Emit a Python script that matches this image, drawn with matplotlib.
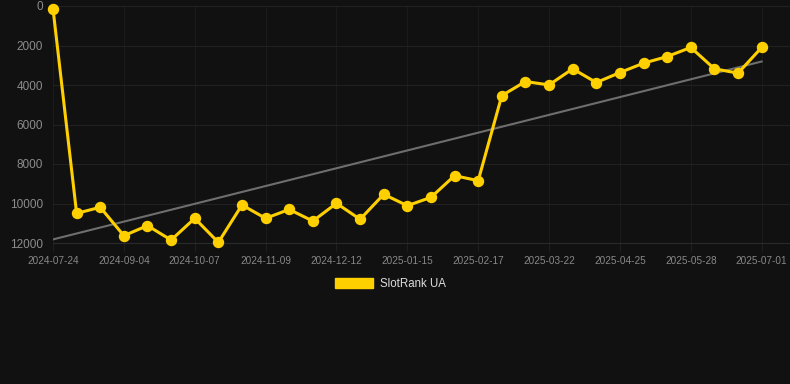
import numpy as np
import matplotlib
matplotlib.use('Agg')
import matplotlib.pyplot as plt
from matplotlib.patches import Patch

plt.rcParams['font.family'] = ['Liberation Sans', 'DejaVu Sans']

dates = ['2024-07-24', '2024-08-07', '2024-08-21', '2024-09-04', '2024-09-15',
         '2024-09-26', '2024-10-07', '2024-10-18', '2024-10-29', '2024-11-09',
         '2024-11-20', '2024-12-01', '2024-12-12', '2024-12-23', '2025-01-04',
         '2025-01-15', '2025-01-26', '2025-02-06', '2025-02-17', '2025-02-28',
         '2025-03-11', '2025-03-22', '2025-04-02', '2025-04-13', '2025-04-25',
         '2025-05-06', '2025-05-17', '2025-05-28', '2025-06-08', '2025-06-19',
         '2025-07-01']
ranks = [140, 10500, 10190, 11630, 11120, 11850, 10750, 11970, 10075, 10750,
         10300, 10890, 9990, 10800, 9535, 10110, 9690, 8590, 8845, 4535,
         3825, 3995, 3180, 3875, 3370, 2895, 2560, 2100, 3180, 3400, 2100]
yticks = [0, 2000, 4000, 6000, 8000, 10000, 12000]

bg = '#111111'
gold = '#FFD000'

fig = plt.figure(figsize=(7.9, 3.84), dpi=100, facecolor=bg)
ax = fig.add_axes([53 / 790, 1 - 243 / 384, 737 / 790, 237 / 384])
ax.set_facecolor(bg)

x = np.arange(len(ranks))
# trend line (least squares)
k, b = np.polyfit(x, ranks, 1)
ax.plot(x, k * x + b, color='#6e6e6e', lw=1.5, zorder=2)

ax.plot(x, ranks, color=gold, lw=2.2, marker='o', ms=7.2, zorder=3, clip_on=False)

ax.set_ylim(12000, 0)
ax.set_yticks(yticks)
ax.set_xlim(0, 31.2)
ax.set_xticks(x[::3])
ax.set_xticklabels(dates[::3])

ax.yaxis.grid(True, color='#212121', lw=0.8)
ax.xaxis.grid(True, color='#1b1b1b', lw=0.8)
ax.set_axisbelow(True)
for s in ax.spines.values():
    s.set_visible(False)
ax.spines['bottom'].set_visible(True)
ax.spines['bottom'].set_color('#2a2a2a')
ax.spines['bottom'].set_linewidth(0.8)
ax.tick_params(axis='y', colors='#8c8c8c', labelsize=8.5, length=0, pad=7)
ax.tick_params(axis='x', colors='#888888', labelsize=7.2, length=6, width=0.8,
               pad=3, color='#1f1f1f')

fig.legend(handles=[Patch(facecolor=gold, edgecolor=gold)], labels=['SlotRank UA'],
           loc='center', bbox_to_anchor=(390 / 790, 1 - 284 / 384), frameon=False,
           labelcolor='#dddddd', fontsize=8.3, handlelength=3.3, handleheight=0.9,
           handletextpad=0.6)

plt.savefig('out.png', dpi=100, facecolor=bg)
